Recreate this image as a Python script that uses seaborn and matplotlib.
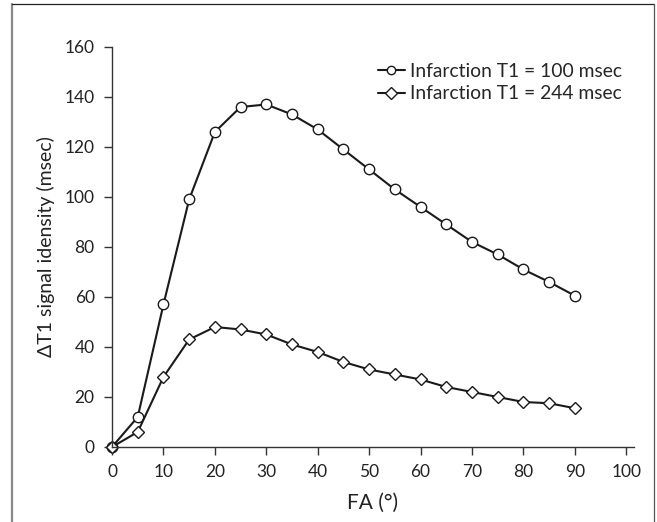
import numpy as np
import pandas as pd
import matplotlib
matplotlib.use("Agg")
import matplotlib.pyplot as plt
import seaborn as sns
from matplotlib.lines import Line2D

# Data
fa = [0, 5, 10, 15, 20, 25, 30, 35, 40, 45, 50, 55, 60, 65, 70, 75, 80, 85, 90]
t1_100 = [0, 12, 57, 99, 126, 136, 137, 133, 127, 119, 111, 103, 96, 89, 82, 77, 71, 66, 60.5]
t1_244 = [0, 6, 28, 43, 48, 47, 45, 41, 38, 34, 31, 29, 27, 24, 22, 20, 18, 17.5, 15.5]
labels = ["Infarction T1 = 100 msec", "Infarction T1 = 244 msec"]

df = pd.DataFrame({
    "FA": fa * 2,
    "dT1": t1_100 + t1_244,
    "series": [labels[0]] * len(fa) + [labels[1]] * len(fa),
})

sns.set_style("ticks")
plt.rcParams["font.family"] = ["Lato", "DejaVu Sans"]

fig = plt.figure(figsize=(6.57, 5.22), dpi=100)
ax = fig.add_axes([0.1705, 0.1437, 0.7945, 0.7663])

markers = {labels[0]: "o", labels[1]: "D"}
sizes = {labels[0]: 7.5, labels[1]: 6.5}
for lab in labels:
    sub = df[df["series"] == lab]
    sns.lineplot(data=sub, x="FA", y="dT1", ax=ax, color="#1a1a1a", linewidth=1.5,
                 marker=markers[lab], markersize=sizes[lab], markerfacecolor="white",
                 markeredgecolor="#1a1a1a", markeredgewidth=1.0, label=lab, clip_on=False)

ax.set_xlim(0, 101.5)
ax.set_ylim(0, 160)
ax.set_xticks(range(0, 101, 10))
ax.set_yticks(range(0, 161, 20))
ax.tick_params(axis="both", labelsize=12.5, length=6, width=1, color="#333333",
               labelcolor="#222222", direction="out", pad=6.5)
for s in ["top", "right"]:
    ax.spines[s].set_visible(False)
for s in ["left", "bottom"]:
    ax.spines[s].set_linewidth(1)
    ax.spines[s].set_color("#333333")

ax.set_xlabel("FA (°)", fontsize=15, color="#222222", labelpad=9)
ax.set_ylabel("ΔT1 signal idensity (msec)", fontsize=14, color="#222222", labelpad=7)

leg = ax.legend(loc="upper right", bbox_to_anchor=(1.0, 0.99), frameon=False, fontsize=13.9,
                handlelength=1.4, handletextpad=0.3, labelspacing=0.3, borderaxespad=0.2)
for h in leg.legend_handles:
    h.set_markersize(6)

# Frame around the figure
fig.add_artist(Line2D([12 / 657, 12 / 657], [0, 1 - 4 / 522], color="#888888", linewidth=1.6))
fig.add_artist(Line2D([12 / 657, 654 / 657], [1 - 4 / 522, 1 - 4 / 522], color="#222222", linewidth=0.9))
fig.add_artist(Line2D([654 / 657, 654 / 657], [0, 1 - 4 / 522], color="#555555", linewidth=0.9))

fig.savefig("out.png", dpi=100)
